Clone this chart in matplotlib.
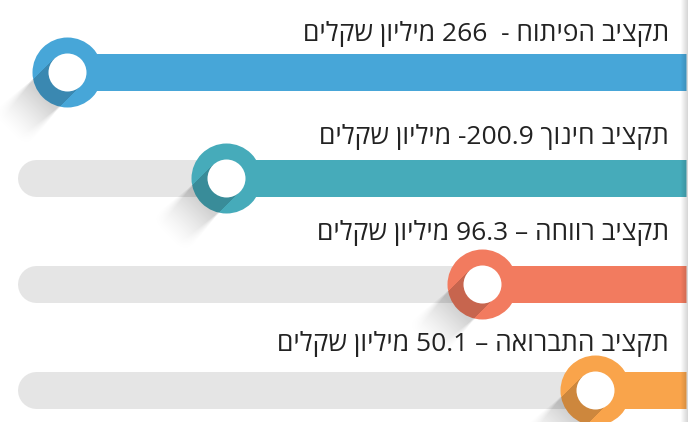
import re
import numpy as np
import matplotlib
matplotlib.use("Agg")
import matplotlib.pyplot as plt

# ---------------- data ----------------
labels = [
    "תקציב הפיתוח -  266 מיליון שקלים",
    "תקציב חינוך 200.9- מיליון שקלים",
    "תקציב רווחה – 96.3 מיליון שקלים",
    "תקציב התברואה – 50.1 מיליון שקלים",
]
values = [266, 200.9, 96.3, 50.1]
colors = ["#47A6D8", "#46ABBA", "#F27B5F", "#F9A44B"]

# ---------------- layout ----------------
W, H = 699, 422
X0, K = 717.4, 2.444            # value -> pixel: x = X0 - K*v
ROW0, PITCH = 72, 106           # bar centre of first row (px), row pitch
BAR_PX = 37                     # bar thickness in px
RING_PX, HOLE_PX = 70, 38       # outer / inner circle diameters
TEXT_BASE = [41, 144, 240, 351] # text baselines (px from top)
TEXT_RIGHT = 669

def visual(s):
    r = s[::-1]
    return re.sub(r"[0-9.]+", lambda m: m.group(0)[::-1], r)

px2pt = 72 / 100.0
fig = plt.figure(figsize=(W / 100, H / 100), dpi=100)
fig.patch.set_facecolor("white")
ax = fig.add_axes([0, 0, 1, 1])
ax.axis("off")
xl = (X0 / K, (X0 - W) / K)
yl = ((H - ROW0) / PITCH, -ROW0 / PITCH)
ax.set_xlim(*xl)
ax.set_ylim(*yl)

v_track_left = (X0 - (17 + BAR_PX / 2)) / K
v_right = (X0 - 686) / K
vmax = max(values)

for i, (v, c) in enumerate(zip(values, colors)):
    if v < vmax:
        ax.plot([v_track_left, v], [i, i], lw=BAR_PX * px2pt, color="#E5E5E5",
                solid_capstyle="round", zorder=1)
    ax.plot([v, v_right], [i, i], lw=BAR_PX * px2pt, color=c,
            solid_capstyle="butt", zorder=2)
    ax.plot(v, i, "o", ms=RING_PX * px2pt, color=c, mec="none", zorder=4)
    ax.plot(v, i, "o", ms=HOLE_PX * px2pt, color="white", mec="none", zorder=6)

# ---------------- long shadows ----------------
yy, xx = np.mgrid[0:H, 0:W]
xd = xx + 0.5
yd = H - yy - 0.5
alpha = np.zeros((H, W))
d = np.array([-1.0, -1.0]) / np.sqrt(2)
p = np.array([1.0, -1.0]) / np.sqrt(2)
R_out, r_in, L = RING_PX / 2, HOLE_PX / 2, 85
for i, v in enumerate(values):
    cx, cy = ax.transData.transform((v, i))
    rx, ry = xd - cx, yd - cy
    along = rx * d[0] + ry * d[1]
    perp = np.abs(rx * p[0] + ry * p[1])
    dist = np.hypot(rx, ry)
    inside = dist <= R_out
    a_in = np.where(inside & (along > 0) & (perp < r_in), 0.18, 0.0)
    soft = 2 + 0.25 * np.clip(along - R_out, 0, None)
    edge = np.clip((r_in + soft / 2 - perp) / soft, 0, 1)
    fade = np.clip(1 - (along - R_out) / (L - R_out), 0, 1) ** 1.4
    a_out = np.where((~inside) & (along > 0), 0.18 * fade * edge, 0.0)
    alpha = np.maximum(alpha, np.maximum(a_in, a_out))

img = np.zeros((H, W, 4))
img[..., 3] = alpha
ax.imshow(img, extent=(xl[0], xl[1], yl[0], yl[1]), origin="upper",
          aspect="auto", interpolation="bilinear", zorder=5)
ax.set_xlim(*xl)
ax.set_ylim(*yl)

# ---------------- labels ----------------
for lab, yb in zip(labels, TEXT_BASE):
    ax.text(TEXT_RIGHT / W, 1 - yb / H, visual(lab), transform=ax.transAxes,
            ha="right", va="baseline", fontsize=19, color="#222222",
            family=["Open Sans", "DejaVu Sans"], zorder=7)

# ---------------- right page-edge shadow ----------------
sax = fig.add_axes([680 / W, 0, 8 / W, 1])
sax.axis("off")
grad = np.zeros((1, 8, 4))
grad[0, :, 3] = np.linspace(0.0, 0.16, 8)
sax.imshow(grad, aspect="auto", interpolation="bilinear")

fig.savefig("out.png", dpi=100)
